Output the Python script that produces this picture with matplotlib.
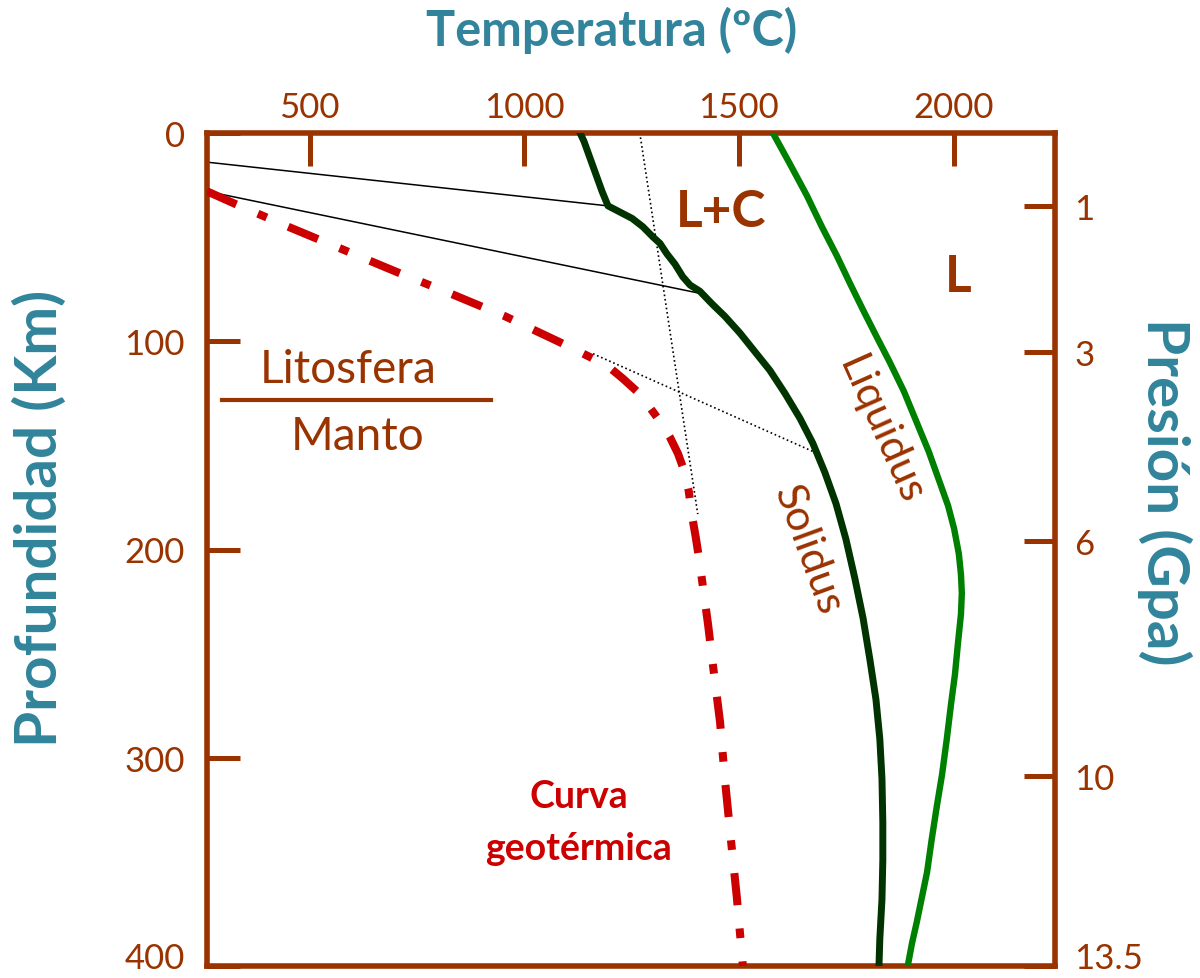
import numpy as np
import matplotlib
matplotlib.use('Agg')
import matplotlib.pyplot as plt
import matplotlib.transforms as mtrans

plt.rcParams['font.family'] = ['Lato', 'DejaVu Sans']

BROWN = '#993300'
TEAL = '#31849b'

# solidus (dark green)
sol_T = [1130, 1139, 1153, 1167, 1181, 1195, 1223, 1251, 1276, 1300, 1316, 1332,
         1351, 1369, 1386, 1409, 1437, 1467, 1502, 1537, 1572, 1607, 1642, 1672,
         1700, 1726, 1749, 1770, 1789, 1805, 1819, 1828, 1833, 1835, 1835, 1833,
         1828, 1826]
sol_d = [0, 4, 12, 20, 28, 35, 38, 41, 45, 50, 53, 58,
         63, 69, 73, 76, 82, 88, 96, 105, 114, 125, 137, 149,
         163, 178, 195, 214, 233, 253, 272, 291, 310, 331, 349, 368,
         387, 400]

# liquidus (green)
liq_T = [1579, 1619, 1658, 1693, 1728, 1758, 1789, 1821, 1851, 1884, 1914, 1942,
         1968, 1987, 2001, 2012, 2017, 2019, 2017, 2010, 2003, 1994, 1984, 1973,
         1961, 1949, 1938, 1926, 1914, 1903, 1893]
liq_d = [0, 15, 30, 45, 59, 72, 85, 98, 110, 124, 139, 153,
         168, 179, 190, 202, 212, 221, 231, 245, 260, 274, 291, 308,
         323, 339, 355, 367, 379, 389, 400]

# curva geotermica (red)
geo_T = [261, 326, 450, 578, 706, 827, 955, 1078, 1118, 1157, 1195, 1230, 1262,
         1293, 1318, 1339, 1358, 1372, 1383, 1390, 1400, 1409, 1418, 1428, 1439,
         1456, 1467, 1481, 1495, 1509]
geo_d = [28, 34, 45, 56, 67, 77, 88, 100, 104, 108, 112, 118, 124,
         132, 139, 146, 154, 162, 172, 183, 195, 207, 221, 236, 255,
         283, 310, 339, 367, 400]

# thin guide lines
thin1_T = [261, 1195]
thin1_d = [14, 35]
thin2_T = [261, 1409]
thin2_d = [28, 77]
dot1_T = [1269, 1404]
dot1_d = [0, 183]
dot2_T = [1160, 1684]
dot2_d = [106, 154]

# axes ticks
temp_ticks = [500, 1000, 1500, 2000]
depth_ticks = [0, 100, 200, 300, 400]
pres_depth = [35, 105, 196, 309, 400]
pres_labels = ['1', '3', '6', '10', '13.5']


def px(x, y):
    return x / 1200, 1 - y / 979


fig = plt.figure(figsize=(12, 9.79), dpi=100)
ax = fig.add_axes([207 / 1200, 1 - 967 / 979, 848 / 1200, 833 / 979])

ax.plot(thin1_T, thin1_d, color='black', lw=1.1, zorder=2)
ax.plot(thin2_T, thin2_d, color='black', lw=1.1, zorder=2)
ax.plot(dot1_T, dot1_d, color='black', lw=1.2, ls=':', zorder=2)
ax.plot(dot2_T, dot2_d, color='black', lw=1.2, ls=':', zorder=2)

ax.plot(sol_T, sol_d, color='#003300', lw=5, solid_joinstyle='round', zorder=3)
ax.plot(liq_T, liq_d, color='#008000', lw=4.6, solid_joinstyle='round', zorder=3)
ax.plot(geo_T, geo_d, color='#cc0000', lw=5.8, ls=(0, (4, 2.9, 1.2, 2.9)),
        dash_capstyle='butt', zorder=3)

ax.set_xlim(261, 2236)
ax.set_ylim(400, 0)

ax.xaxis.tick_top()
ax.set_xticks(temp_ticks)
ax.set_yticks(depth_ticks)
ax.tick_params(axis='x', direction='in', length=24, width=3.6, color=BROWN,
               labelcolor=BROWN, labelsize=25, pad=7)
ax.tick_params(axis='y', direction='in', length=24, width=3.6, color=BROWN,
               labelcolor=BROWN, labelsize=25, pad=16)
for s in ax.spines.values():
    s.set_color(BROWN)
    s.set_linewidth(4)

ax2 = ax.twinx()
ax2.set_ylim(400, 0)
ax2.set_yticks(pres_depth)
ax2.set_yticklabels(pres_labels)
ax2.tick_params(axis='y', direction='in', length=22, width=3.6, color=BROWN,
                labelcolor=BROWN, labelsize=25, pad=14)
for s in ax2.spines.values():
    s.set_visible(False)

# lift the bottom labels so they stay inside the figure
lift = mtrans.ScaledTranslation(0, 8 / 72, fig.dpi_scale_trans)
for lab in [ax.get_yticklabels()[-1], ax2.get_yticklabels()[-1]]:
    lab.set_transform(lab.get_transform() + lift)

# region labels
ax.text(1458, 37.5, 'L+C', color=BROWN, fontsize=37, fontweight='bold',
        ha='center', va='center')
ax.text(2010, 69, 'L', color=BROWN, fontsize=37, fontweight='bold',
        ha='center', va='center')
ax.text(1830, 142, 'Liquidus', color=BROWN, fontsize=31, rotation=-66,
        ha='center', va='center', rotation_mode='anchor')
ax.text(1661, 200, 'Solidus', color=BROWN, fontsize=31, rotation=-70,
        ha='center', va='center', rotation_mode='anchor')

ax.text(589, 119.6, 'Litosfera', color=BROWN, fontsize=33, ha='center', va='baseline')
ax.plot([296, 922], [128.2, 128.2], color=BROWN, lw=3)
ax.text(612, 151.7, 'Manto', color=BROWN, fontsize=33, ha='center', va='baseline')

ax.text(1127, 323.7, 'Curva', color='#cc0000', fontsize=27, fontweight='bold',
        ha='center', va='baseline')
ax.text(1127, 348.6, 'geotérmica', color='#cc0000', fontsize=27, fontweight='bold',
        ha='center', va='baseline')

# axis titles
x, y = px(612, 30)
fig.text(x, y, 'Temperatura (ºC)', color=TEAL, fontsize=35, fontweight='bold',
         ha='center', va='center')
x, y = px(40, 518)
fig.text(x, y, 'Profundidad (Km)', color=TEAL, fontsize=42, fontweight='bold',
         ha='center', va='center', rotation=90)
x, y = px(1165, 492)
fig.text(x, y, 'Presión (Gpa)', color=TEAL, fontsize=42, fontweight='bold',
         ha='center', va='center', rotation=-90)

fig.savefig('out.png', dpi=100)
